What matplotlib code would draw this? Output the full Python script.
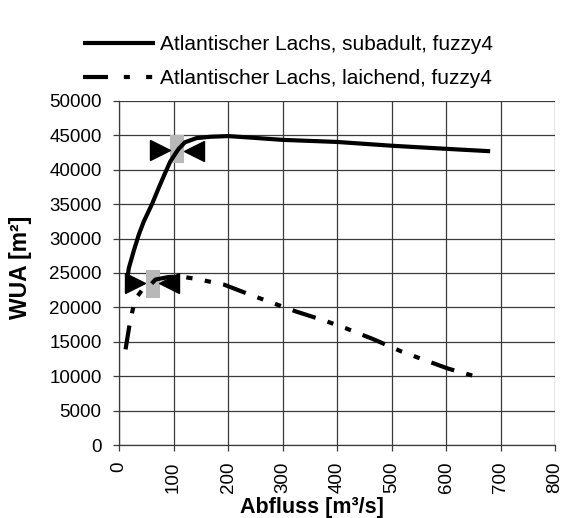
import matplotlib
matplotlib.use("Agg")
import matplotlib.pyplot as plt
from matplotlib.path import Path
from matplotlib.lines import Line2D

plt.rcParams['font.family'] = ['Liberation Sans', 'DejaVu Sans']

# ---- data ----
subadult_x = [15, 18, 27, 36, 45, 61, 73, 85, 94, 109, 121, 142, 167, 200, 238, 300, 400, 500, 600, 681]
subadult_y = [24000, 25700, 28200, 30500, 32400, 35100, 37400, 39600, 41200, 43000, 44000, 44600,
              44800, 44900, 44700, 44350, 44050, 43500, 43050, 42700]

laichend_x = [12, 21, 30, 42, 58, 67, 90, 112, 145, 193, 242, 273, 325, 380, 415, 466, 518, 552, 604, 657]
laichend_y = [13900, 18300, 21200, 22500, 23300, 24050, 24400, 24500, 24100, 23300, 21800, 20900,
              19400, 18000, 17000, 15400, 13600, 12600, 11100, 9900]

# bowtie markers (left ▶, centre grey, right ◀)
bow_right_x = [76, 30]
bow_right_y = [42900, 23500]
bow_mid_x = [107, 62]
bow_mid_y = [43000, 23400]
bow_left_x = [137, 92]
bow_left_y = [42800, 23600]

x_ticks = [0, 100, 200, 300, 400, 500, 600, 700, 800]
y_ticks = [0, 5000, 10000, 15000, 20000, 25000, 30000, 35000, 40000, 45000, 50000]

label_sub = "Atlantischer Lachs, subadult, fuzzy4"
label_lai = "Atlantischer Lachs, laichend, fuzzy4"

# ---- figure ----
fig = plt.figure(figsize=(5.62, 5.18), dpi=100)
ax = fig.add_axes([119 / 562, 1 - 445 / 518, (555 - 119) / 562, (445 - 101) / 518])

dash_line = (0, (5.8, 3.0, 1.5, 3.0, 1.5, 3.0))
ax.plot(subadult_x, subadult_y, color='black', lw=3.0, solid_capstyle='butt', zorder=3)
ax.plot(laichend_x, laichend_y, color='black', lw=3.0,
        linestyle=dash_line, dash_capstyle='butt', zorder=3)

rect = Path([(-0.5, -1), (0.5, -1), (0.5, 1), (-0.5, 1), (-0.5, -1)],
            [Path.MOVETO, Path.LINETO, Path.LINETO, Path.LINETO, Path.CLOSEPOLY])
ax.scatter(bow_mid_x, bow_mid_y, marker=rect, s=400, color='#b8b8b8', linewidths=0, zorder=2)
ax.plot(bow_right_x, bow_right_y, linestyle='none', marker='>', ms=15, color='black', zorder=4)
ax.plot(bow_left_x, bow_left_y, linestyle='none', marker='<', ms=15, color='black', zorder=4)

ax.set_xlim(0, 800)
ax.set_ylim(0, 50000)
ax.set_xticks(x_ticks)
ax.set_yticks(y_ticks)
ax.set_xticklabels([str(v) for v in x_ticks], rotation=90, fontsize=13.5)
ax.set_yticklabels([str(v) for v in y_ticks], fontsize=13.5)
ax.grid(True, color='#3a3a3a', lw=0.9)
ax.set_axisbelow(True)
for s in ['top', 'right']:
    ax.spines[s].set_visible(False)
for s in ['left', 'bottom']:
    ax.spines[s].set_color('#3a3a3a')
    ax.spines[s].set_linewidth(0.9)
ax.tick_params(direction='out', length=4, width=0.9, color='#3a3a3a')
ax.tick_params(axis='x', pad=8)
ax.tick_params(axis='y', pad=8.5)

ax.set_xlabel("Abfluss [m³/s]", fontsize=15.5, fontweight='bold', va='top')
ax.xaxis.set_label_coords(0.443, -0.152)
ax.set_ylabel("WUA [m²]", fontsize=16.5, fontweight='bold')
ax.yaxis.set_label_coords(-0.2, 0.515)

h1 = Line2D([], [], color='black', lw=3.0, solid_capstyle='butt')
h2 = Line2D([], [], color='black', lw=3.0, linestyle=(0, (6.0, 3.8, 1.45, 3.9, 1.45, 3.0)),
            dash_capstyle='butt')
fig.legend([h1, h2], [label_sub, label_lai], loc='upper left',
           bbox_to_anchor=(75 / 562, 1 - 26.5 / 518), frameon=False, fontsize=15,
           handlelength=3.45, handletextpad=0.24, labelspacing=0.73, borderaxespad=0)

fig.savefig("out.png", dpi=100, facecolor='white')
